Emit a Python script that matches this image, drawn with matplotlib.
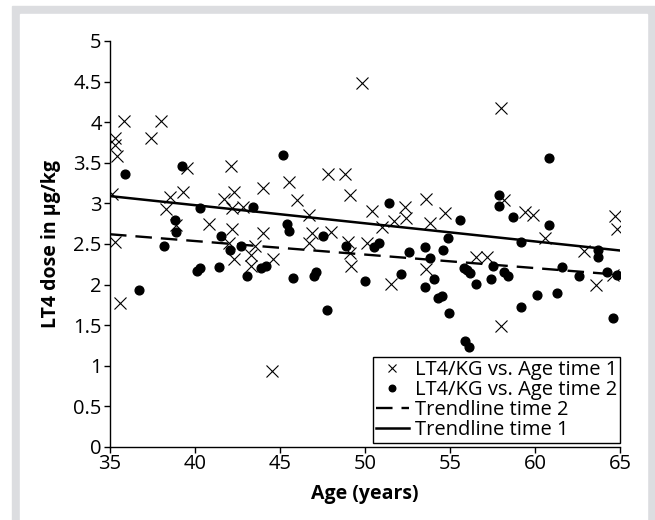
import matplotlib
matplotlib.use("Agg")
import matplotlib.pyplot as plt
from matplotlib.patches import Rectangle

plt.rcParams['font.family'] = ['Open Sans', 'DejaVu Sans']

# time 1 (crosses)
age_t1 = [35.1, 35.3, 35.4, 35.3, 35.8, 35.3, 35.6, 37.4, 38.0, 38.3,
          38.5, 38.9, 39.3, 39.5, 40.8, 41.7, 42.1, 42.3, 42.2, 42.2,
          42.0, 42.3, 42.8, 43.3, 43.5, 43.3, 44.0, 44.0, 44.6, 44.55,
          45.55, 46.0, 46.7, 46.9, 46.7, 47.8, 48.0, 48.8, 49.1, 49.0,
          49.1, 49.2, 49.8, 50.1, 50.4, 51.0, 51.5, 51.7, 52.35, 52.4,
          53.6, 53.8, 53.6, 54.7, 56.5, 57.2, 58.0, 58.2, 58.0, 59.4,
          59.9, 60.6, 62.9, 63.6, 64.6, 64.7, 64.8]
dose_t1 = [3.12, 3.72, 3.58, 3.80, 4.01, 2.53, 1.77, 3.80, 4.02, 2.93,
           3.08, 2.74, 3.14, 3.44, 2.75, 3.05, 3.46, 3.14, 2.94, 2.68,
           2.51, 2.32, 2.96, 2.37, 2.48, 2.23, 3.19, 2.64, 2.32, 0.94,
           3.26, 3.04, 2.86, 2.64, 2.51, 3.36, 2.65, 3.36, 3.10, 2.52,
           2.39, 2.23, 4.48, 2.51, 2.91, 2.71, 2.01, 2.78, 2.95, 2.82,
           3.06, 2.76, 2.19, 2.88, 2.34, 2.34, 4.18, 3.04, 1.49, 2.90,
           2.86, 2.58, 2.41, 1.99, 2.12, 2.85, 2.68]

# time 2 (dots)
age_t2 = [35.9, 36.7, 38.2, 38.8, 38.9, 39.25, 40.1, 40.3, 40.3, 41.4,
          41.5, 42.06, 42.7, 43.04, 43.4, 43.9, 44.2, 45.2, 45.4, 45.5,
          45.75, 47.0, 47.1, 47.5, 47.75, 48.9, 50.0, 50.5, 50.8, 51.4,
          52.1, 52.6, 53.5, 53.8, 53.5, 54.06, 54.3, 54.5, 54.6, 54.9,
          54.96, 55.6, 55.8, 56.0, 56.2, 55.9, 56.1, 56.5, 57.4, 57.5,
          57.9, 57.9, 58.2, 58.4, 58.7, 59.2, 59.2, 60.1, 60.8, 60.8,
          61.3, 61.6, 62.6, 63.7, 63.7, 64.25, 64.8, 64.6]
dose_t2 = [3.36, 1.93, 2.47, 2.79, 2.65, 3.46, 2.17, 2.21, 2.94, 2.22,
           2.60, 2.43, 2.48, 2.10, 2.96, 2.21, 2.23, 3.59, 2.75, 2.66,
           2.08, 2.10, 2.15, 2.60, 1.69, 2.48, 2.05, 2.46, 2.51, 3.01,
           2.13, 2.40, 2.46, 2.33, 1.97, 2.07, 1.84, 1.86, 2.42, 2.58,
           1.65, 2.80, 2.21, 2.18, 2.14, 1.30, 1.23, 2.01, 2.07, 2.23,
           3.10, 2.97, 2.16, 2.10, 2.83, 2.52, 1.73, 1.87, 3.56, 2.74,
           1.90, 2.22, 2.10, 2.43, 2.34, 2.16, 2.12, 1.59]

# trendline end points
trend_x = [35, 65]
trend1_y = [3.09, 2.42]
trend2_y = [2.62, 2.12]

W, H = 655, 520
fig = plt.figure(figsize=(W / 100, H / 100), dpi=100)

# grey frame with white panel
fig.patches.append(Rectangle((12 / W, 0), (W - 12) / W, (H - 6) / H,
                             transform=fig.transFigure, color="#dcdde0", zorder=-2))
fig.patches.append(Rectangle((20 / W, 0), (647 - 20) / W, (H - 14) / H,
                             transform=fig.transFigure, color="white", zorder=-1))

ax = fig.add_axes([110 / W, (H - 447) / H, 510 / W, 406 / H])
ax.set_zorder(1)
ax.patch.set_alpha(0)

ax.plot(age_t1, dose_t1, linestyle="none", marker="x", color="black",
        markersize=8, markeredgewidth=0.8, label="LT4/KG vs. Age time 1")
ax.plot(age_t2, dose_t2, linestyle="none", marker="o", color="black",
        markersize=6.3, label="LT4/KG vs. Age time 2")
ax.plot(trend_x, trend2_y, color="black", linewidth=1.7,
        linestyle=(0, (7, 3.8)), label="Trendline time 2")
ax.plot(trend_x, trend1_y, color="black", linewidth=1.8, label="Trendline time 1")

ax.set_xlim(35, 65)
ax.set_ylim(0, 5)
ax.set_xticks([35, 40, 45, 50, 55, 60, 65])
ax.set_yticks([0, 0.5, 1, 1.5, 2, 2.5, 3, 3.5, 4, 4.5, 5])
ax.set_yticklabels(["0", "0.5", "1", "1.5", "2", "2.5", "3", "3.5", "4", "4.5", "5"])
ax.tick_params(direction="out", length=4, width=1, labelsize=14.5, colors="black", pad=2)
ax.tick_params(axis="x", pad=1)
for s in ["top", "right"]:
    ax.spines[s].set_visible(False)
for s in ["left", "bottom"]:
    ax.spines[s].set_linewidth(1)

ax.set_xlabel("Age (years)", fontsize=14, fontweight="bold", labelpad=7)
ax.set_ylabel("LT4 dose in µg/kg", fontsize=14, fontweight="bold", labelpad=9)

leg = ax.legend(loc="lower right", bbox_to_anchor=(1.0, 0.01), fontsize=14.5,
                frameon=True, fancybox=False, edgecolor="black", framealpha=1,
                handlelength=1.6, handletextpad=0.3, labelspacing=0.0,
                borderpad=0.15, borderaxespad=0, markerscale=0.75)
leg.get_frame().set_linewidth(1)

fig.savefig("out.png", dpi=100)
